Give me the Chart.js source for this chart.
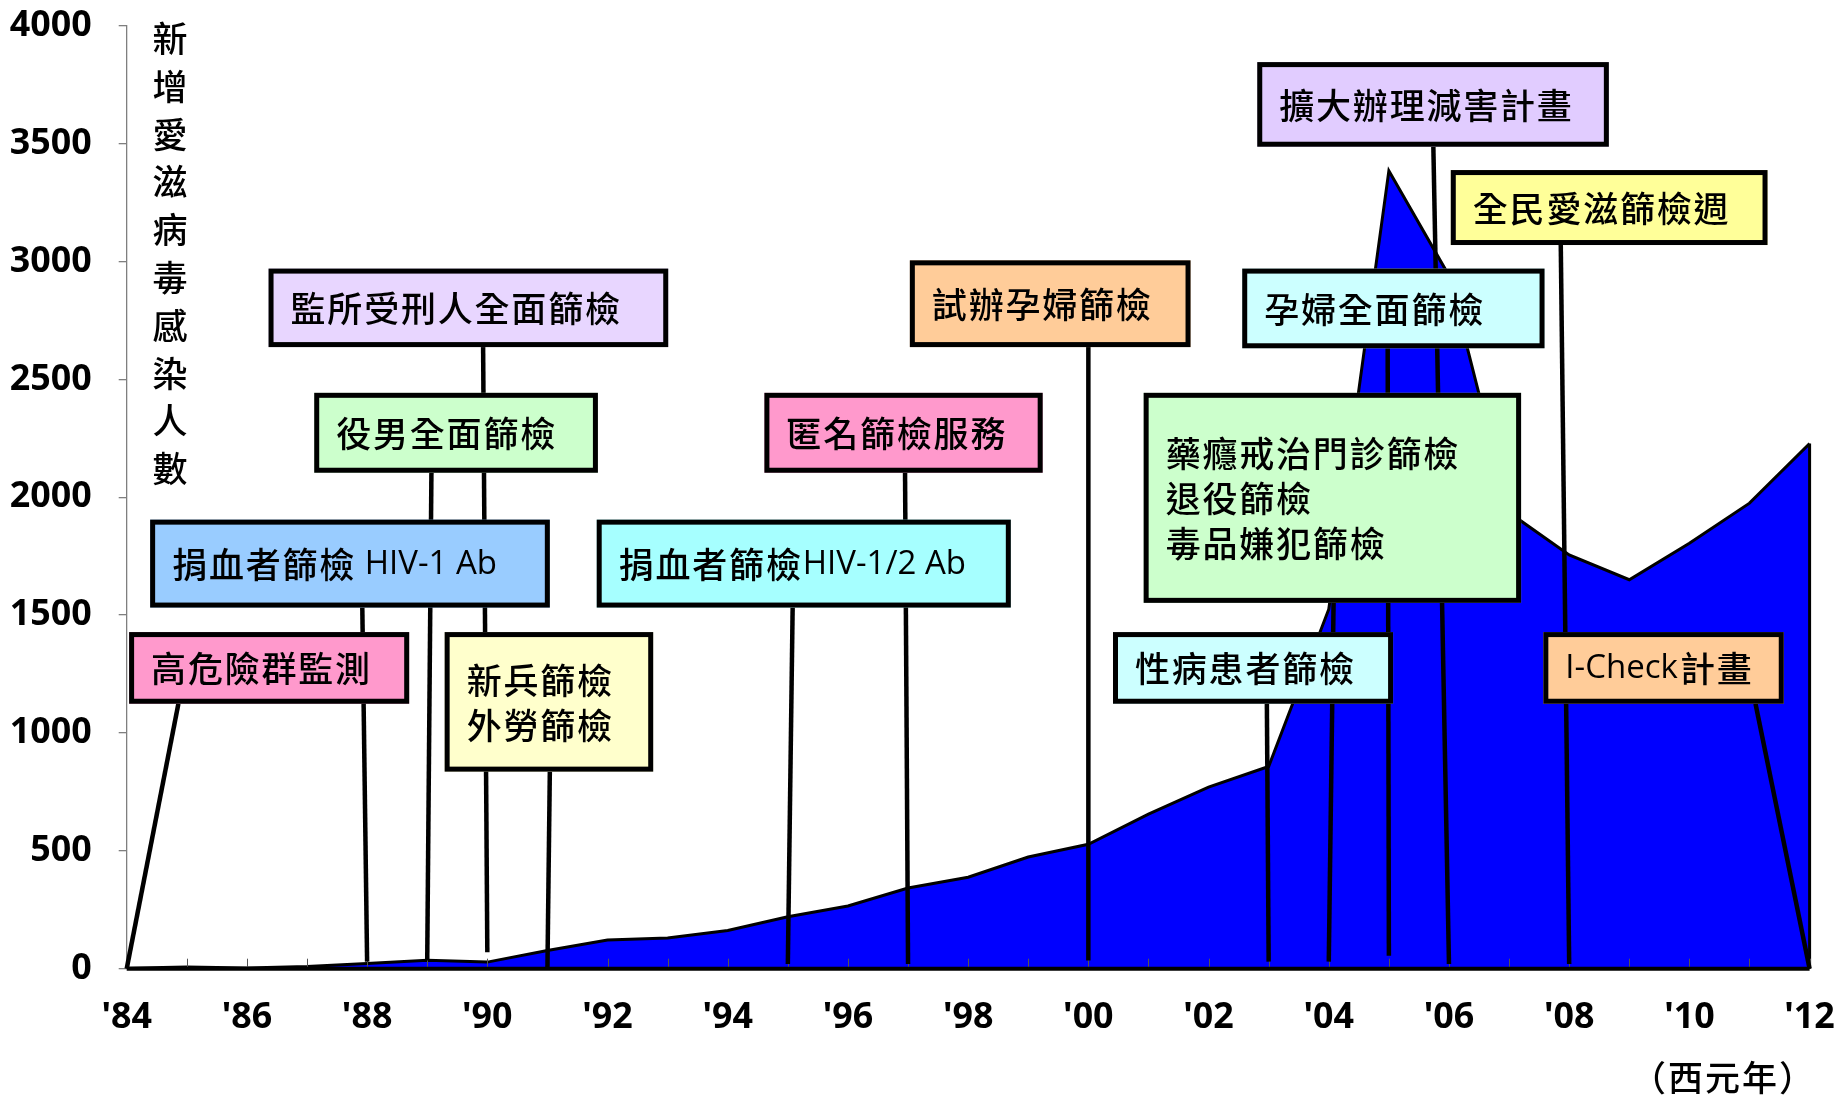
<!DOCTYPE html>
<html>
<head>
<meta charset="utf-8">
<script src="https://cdn.jsdelivr.net/npm/chart.js@4/dist/chart.umd.min.js"></script>
<style>
  html, body { margin: 0; padding: 0; background: #ffffff; }
  #wrap { position: relative; width: 1839px; height: 1096px; }
</style>
</head>
<body>
<div id="wrap"><canvas id="chart" width="1839" height="1096"></canvas></div>
<script>
// Annual new HIV infections, Taiwan
const years = [1984, 1985, 1986, 1987, 1988, 1989, 1990, 1991, 1992, 1993,
               1994, 1995, 1996, 1997, 1998, 1999, 2000, 2001, 2002, 2003,
               2004, 2005, 2006, 2007, 2008, 2009, 2010, 2011, 2012];
const newInfections = [2, 7, 3, 9, 22, 36, 28, 77, 122, 130,
                       162, 220, 266, 342, 388, 474, 528, 656, 770, 858,
                       1525, 3385, 2940, 1935, 1755, 1650, 1805, 1975, 2228];

const xTickYears = [1984, 1986, 1988, 1990, 1992, 1994, 1996, 1998, 2000, 2002, 2004, 2006, 2008, 2010, 2012];
const yTickValues = [0, 500, 1000, 1500, 2000, 2500, 3000, 3500, 4000];

const yAxisTitle = '新增愛滋病毒感染人數';
const xAxisUnit = '（西元年）';

// Screening programmes and the year each one started
const eventTexts = [
  ['高危險群監測'],
  ['捐血者篩檢 HIV-1 Ab'],
  ['役男全面篩檢'],
  ['監所受刑人全面篩檢'],
  ['新兵篩檢', '外勞篩檢'],
  ['捐血者篩檢HIV-1/2 Ab'],
  ['匿名篩檢服務'],
  ['試辦孕婦篩檢'],
  ['擴大辦理減害計畫'],
  ['全民愛滋篩檢週'],
  ['孕婦全面篩檢'],
  ['藥癮戒治門診篩檢', '退役篩檢', '毒品嫌犯篩檢'],
  ['性病患者篩檢'],
  ['I-Check計畫']
];
const eventYears = [1984, 1988, 1989, 1990, 1991, 1995, 1997, 2000, 2006, 2008, 2005, 2004, 2003, 2012];

// Callout placement in axis units: box span (years / count) and where its pole leaves the box
const calloutLayout = [
  { x0: 1984.04, x1: 1988.70, top: 1428, bottom: 1124, poleX: 1984.86, poleEnd: 0,  fill: '#FF99CC' },
  { x0: 1984.39, x1: 1991.04, top: 1905, bottom: 1532, poleX: 1987.92, poleEnd: 30, fill: '#99CCFF' },
  { x0: 1987.12, x1: 1991.84, top: 2443, bottom: 2104, poleX: 1989.07, poleEnd: 35, fill: '#CCFFCC' },
  { x0: 1986.36, x1: 1993.01, top: 2970, bottom: 2637, poleX: 1989.93, poleEnd: 70, fill: '#E8D6FF' },
  { x0: 1989.29, x1: 1992.76, top: 1428, bottom: 836,  poleX: 1991.04, poleEnd: 0,  fill: '#FFFFCC' },
  { x0: 1991.82, x1: 1998.71, top: 1905, bottom: 1532, poleX: 1995.08, poleEnd: 20, fill: '#A6FFFF' },
  { x0: 1994.61, x1: 1999.24, top: 2443, bottom: 2104, poleX: 1996.95, poleEnd: 20, fill: '#FF99CC' },
  { x0: 1997.03, x1: 2001.70, top: 3005, bottom: 2637, poleX: 2000.00, poleEnd: 35, fill: '#FFCC99' },
  { x0: 2002.81, x1: 2008.66, top: 3846, bottom: 3487, poleX: 2005.74, poleEnd: 20, fill: '#E1CCFF' },
  { x0: 2006.03, x1: 2011.30, top: 3388, bottom: 3070, poleX: 2007.86, poleEnd: 20, fill: '#FFFF99' },
  { x0: 2002.56, x1: 2007.59, top: 2970, bottom: 2632, poleX: 2004.98, poleEnd: 55, fill: '#CCFFFF' },
  { x0: 2000.92, x1: 2007.20, top: 2443, bottom: 1552, poleX: 2004.08, poleEnd: 30, fill: '#CCFFCC' },
  { x0: 2000.41, x1: 2005.07, top: 1428, bottom: 1124, poleX: 2002.97, poleEnd: 30, fill: '#CCFFFF' },
  { x0: 2007.57, x1: 2011.57, top: 1428, bottom: 1124, poleX: 2011.10, poleEnd: 0,  fill: '#FFCC99' }
];

const CJK_FAMILY = '"Noto Sans CJK TC", "Noto Sans CJK SC", sans-serif';
const LATIN_FAMILY = '"Open Sans", "Noto Sans", sans-serif';

const CJK_SIZE = 35;
const CJK_PITCH = 36.8;
const LINE_GAP = 45;

// Pick the narrowest bold face available for the axis numbers and size it to a fixed label width
function pickTickFont() {
  const probe = document.createElement('canvas').getContext('2d');
  const candidates = [
    { family: '"Noto Sans"', weight: 'bold condensed' },
    { family: '"DejaVu Sans"', weight: 'bold condensed' },
    { family: '"Noto Sans"', weight: 'bold' }
  ];
  let best = null;
  for (const c of candidates) {
    probe.font = `${c.weight} 40px ${c.family}`;
    const w = probe.measureText('4000').width;
    if (!best || w < best.w - 0.5) best = { ...c, w };
  }
  const size = Math.min(41, 40 * 82 / best.w);
  return { family: best.family, weight: best.weight, size };
}

// Draws a label where CJK glyphs sit on a fixed pitch and Latin runs keep their own widths
function drawMixedText(ctx, text, x, y) {
  const runs = text.match(/[\u3000-\u9fff\uff00-\uffef]|[^\u3000-\u9fff\uff00-\uffef]+/g) || [];
  let cx = x;
  for (const run of runs) {
    if (/[\u3000-\u9fff\uff00-\uffef]/.test(run)) {
      ctx.font = `500 ${CJK_SIZE}px ${CJK_FAMILY}`;
      ctx.fillText(run, cx, y);
      cx += CJK_PITCH;
    } else {
      ctx.font = `400 33px ${LATIN_FAMILY}`;
      ctx.fillText(run, cx, y);
      cx += ctx.measureText(run).width + 2;
    }
  }
}

const overlayPlugin = {
  id: 'timelineOverlay',
  afterDatasetsDraw(chart) {
    const { ctx, chartArea, scales } = chart;
    const xs = scales.x, ys = scales.y;
    const y0 = ys.getPixelForValue(0);

    ctx.save();

    // closing edge of the area at the last year
    const lastX = xs.getPixelForValue(years[years.length - 1]);
    ctx.strokeStyle = '#000';
    ctx.lineWidth = 3;
    ctx.beginPath();
    ctx.moveTo(lastX, ys.getPixelForValue(newInfections[newInfections.length - 1]));
    ctx.lineTo(lastX, y0);
    ctx.stroke();

    // yearly tick marks pointing into the plot
    ctx.strokeStyle = '#555';
    ctx.lineWidth = 1;
    for (let yr = years[0]; yr <= years[years.length - 1]; yr++) {
      const px = Math.round(xs.getPixelForValue(yr)) + 0.5;
      ctx.beginPath();
      ctx.moveTo(px, y0);
      ctx.lineTo(px, y0 - 10);
      ctx.stroke();
    }

    // x axis baseline
    ctx.strokeStyle = '#000';
    ctx.lineWidth = 4;
    ctx.beginPath();
    ctx.moveTo(chartArea.left, y0);
    ctx.lineTo(chartArea.right, y0);
    ctx.stroke();

    // poles from each callout to its start year
    ctx.lineWidth = 4.5;
    ctx.lineCap = 'butt';
    calloutLayout.forEach((c, i) => {
      ctx.beginPath();
      ctx.moveTo(xs.getPixelForValue(c.poleX), ys.getPixelForValue(c.bottom));
      ctx.lineTo(xs.getPixelForValue(eventYears[i]), ys.getPixelForValue(c.poleEnd));
      ctx.stroke();
    });

    // callout boxes with their labels
    calloutLayout.forEach((c, i) => {
      const left = xs.getPixelForValue(c.x0);
      const right = xs.getPixelForValue(c.x1);
      const top = ys.getPixelForValue(c.top);
      const bottom = ys.getPixelForValue(c.bottom);
      const bw = 5;
      ctx.fillStyle = c.fill;
      ctx.fillRect(left, top, right - left, bottom - top);
      ctx.strokeStyle = '#000';
      ctx.lineWidth = bw;
      ctx.strokeRect(left + bw / 2, top + bw / 2, right - left - bw, bottom - top - bw);

      const lines = eventTexts[i];
      const cy = (top + bottom) / 2 + 1;
      ctx.fillStyle = '#000';
      ctx.textBaseline = 'middle';
      ctx.textAlign = 'left';
      lines.forEach((ln, k) => {
        const ly = cy + (k - (lines.length - 1) / 2) * LINE_GAP;
        drawMixedText(ctx, ln, left + 22, ly);
      });
    });

    // vertical axis title, one character per row
    ctx.fillStyle = '#000';
    ctx.textAlign = 'center';
    ctx.textBaseline = 'middle';
    ctx.font = `500 35px ${CJK_FAMILY}`;
    Array.from(yAxisTitle).forEach((ch, k) => {
      ctx.fillText(ch, chartArea.left + 43.3, chartArea.top + 13 + k * 47.8);
    });

    // unit under the x axis
    ctx.font = `500 35px ${CJK_FAMILY}`;
    ctx.letterSpacing = '2px';
    ctx.fillText(xAxisUnit, chartArea.right - 86, chartArea.bottom + 109);

    ctx.restore();
  }
};

const tickFont = pickTickFont();

new Chart(document.getElementById('chart'), {
  type: 'line',
  data: {
    datasets: [{
      data: years.map((yr, i) => ({ x: yr, y: newInfections[i] })),
      fill: 'origin',
      backgroundColor: '#0000FF',
      borderColor: '#000000',
      borderWidth: 3,
      pointRadius: 0,
      tension: 0
    }]
  },
  options: {
    responsive: false,
    animation: false,
    events: [],
    layout: { padding: { top: 25.8, right: 29.4, left: 0, bottom: 0 } },
    plugins: { legend: { display: false }, tooltip: { enabled: false }, title: { display: false } },
    scales: {
      x: {
        type: 'linear',
        min: years[0],
        max: years[years.length - 1],
        afterBuildTicks: s => { s.ticks = xTickYears.map(v => ({ value: v })); },
        afterFit: s => { s.height = 1096 - 968.7; s.paddingLeft = 0; s.paddingRight = 0; },
        ticks: {
          font: tickFont,
          color: '#000',
          padding: 28,
          maxRotation: 0,
          autoSkip: false,
          callback: v => "'" + String(v).slice(2)
        },
        grid: { display: false, drawTicks: false },
        border: { display: false }
      },
      y: {
        min: 0,
        max: 4000,
        afterBuildTicks: s => { s.ticks = yTickValues.map(v => ({ value: v })); },
        afterFit: s => { s.width = 126.7; s.paddingTop = 0; s.paddingBottom = 0; },
        ticks: { font: tickFont, color: '#000', padding: 27, callback: v => String(v) },
        grid: { display: true, drawOnChartArea: false, drawTicks: true, tickLength: 8, color: '#7f7f7f', lineWidth: 1.3 },
        border: { display: true, color: '#7f7f7f', width: 1.3 }
      }
    }
  },
  plugins: [overlayPlugin]
});
</script>
</body>
</html>
